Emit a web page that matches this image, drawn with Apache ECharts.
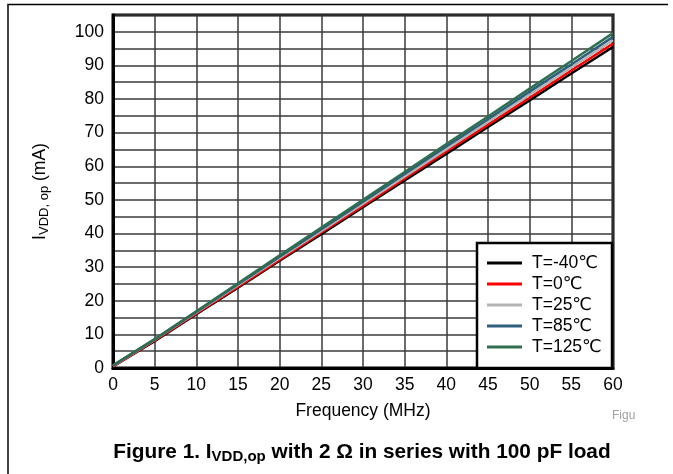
<!DOCTYPE html>
<html><head><meta charset="utf-8">
<script src="https://cdn.jsdelivr.net/npm/echarts@6/dist/echarts.min.js"></script>
<style>html,body{margin:0;padding:0;background:#fff}#c{width:673px;height:474px}</style>
</head><body><div id="c"></div>
<script>
const freq = [0, 5, 10, 15, 20, 25, 30, 35, 40, 45, 50, 55, 60];
const tM40 = [0.5, 8.0, 16.0, 23.9, 31.9, 39.8, 47.8, 55.8, 63.7, 71.7, 79.6, 87.6, 95.5];
const t0   = [0.5, 8.2, 16.2, 24.2, 32.2, 40.3, 48.3, 56.4, 64.4, 72.4, 80.4, 88.5, 96.5];
const t25  = [0.6, 8.4, 16.5, 24.6, 32.7, 40.8, 48.9, 57.0, 65.1, 73.2, 81.3, 89.4, 97.5];
const t85  = [0.7, 8.5, 16.7, 24.9, 33.1, 41.3, 49.5, 57.7, 65.9, 74.0, 82.2, 90.3, 98.5];
const t125 = [0.8, 8.6, 16.9, 25.2, 33.5, 41.8, 50.0, 58.3, 66.6, 74.8, 83.1, 91.3, 99.6];
const seriesNames = ['T=-40\u2103', 'T=0\u2103', 'T=25\u2103', 'T=85\u2103', 'T=125\u2103'];
const seriesData = [tM40, t0, t25, t85, t125];
const colors = ['#000000', '#ff0000', '#b4b4b4', '#2f5f7f', '#2f6f4f'];

const chart = echarts.init(document.getElementById('c'), null, {renderer: 'canvas'});
const FONT = 'Liberation Sans, Arial, DejaVu Sans, sans-serif';
chart.setOption({
  animation: false,
  backgroundColor: '#fff',
  textStyle: {fontFamily: FONT},
  grid: {left: 113, right: 60, top: 15, bottom: 106, show: true, borderColor: '#000', borderWidth: 3, backgroundColor: 'transparent'},
  xAxis: {
    type: 'value', min: 0, max: 60, interval: 5,
    name: 'Frequency (MHz)', nameLocation: 'middle', nameGap: 34,
    nameTextStyle: {fontSize: 17.5, color: '#000', fontFamily: FONT},
    axisLine: {show: true, lineStyle: {color: '#000', width: 3}},
    axisTick: {show: false},
    axisLabel: {fontSize: 17.5, color: '#000', margin: 8, fontFamily: FONT},
    splitLine: {show: true, lineStyle: {color: '#3a3a3a', width: 1.5}}
  },
  yAxis: {
    type: 'value', min: 0, max: 105, interval: 5,
    name: '{m|I}{s|VDD, op}{m| (mA)}', nameLocation: 'middle', nameGap: 62, nameRotate: 90,
    nameTextStyle: {color: '#000', fontFamily: FONT, rich: {
      m: {fontSize: 17.5, color: '#000', fontFamily: FONT, lineHeight: 22, verticalAlign: 'middle'},
      s: {fontSize: 13, color: '#000', fontFamily: FONT, padding: [9, 0, 0, 0], lineHeight: 22}
    }},
    axisLine: {show: true, lineStyle: {color: '#000', width: 3}},
    axisTick: {show: false},
    axisLabel: {fontSize: 17.5, color: '#000', margin: 9, fontFamily: FONT,
      formatter: v => (v % 10 === 0 ? String(v) : '')},
    splitLine: {show: true, lineStyle: {color: '#3a3a3a', width: 1.5}}
  },
  legend: {
    orient: 'vertical', left: 487, top: 254, padding: 0,
    itemWidth: 35, itemHeight: 3, itemGap: 3, icon: 'rect',
    textStyle: {fontSize: 17.5, color: '#000', fontFamily: FONT, lineHeight: 18, padding: [0, 0, 0, 5]},
    data: seriesNames
  },
  graphic: [
    {type: 'rect', z: 3, shape: {x: 477, y: 243, width: 135, height: 125}, style: {fill: '#fff', stroke: '#000', lineWidth: 2.5}},
    {type: 'polyline', z: 3, shape: {points: [[8, 474], [8, 4.5], [668, 4.5]]}, style: {stroke: '#000', lineWidth: 1.5, fill: null}},
    {type: 'text', z: 3, left: 612, top: 410, style: {text: 'Figu', fontSize: 12, fill: '#a0a0a0', fontFamily: FONT}},
    {type: 'text', z: 3, x: 362, y: 452, style: {
      text: '{b|Figure 1. I}{sb|VDD,op}{b| with 2 \u03a9 in series with 100 pF load}',
      align: 'center', verticalAlign: 'middle', fontFamily: FONT,
      rich: {
        b: {fontSize: 20.8, fontWeight: 'bold', fill: '#000', fontFamily: FONT, lineHeight: 26},
        sb: {fontSize: 15, fontWeight: 'bold', fill: '#000', fontFamily: FONT, padding: [10, 0, 0, 0], lineHeight: 26}
      }
    }}
  ],
  series: seriesNames.map((n, i) => ({
    name: n, type: 'line', showSymbol: false, symbol: 'none',
    data: freq.map((f, j) => [f, seriesData[i][j]]),
    lineStyle: {color: colors[i], width: 2.5},
    itemStyle: {color: colors[i]},
    z: 2 + i * 0.01
  }))
});
</script></body></html>
